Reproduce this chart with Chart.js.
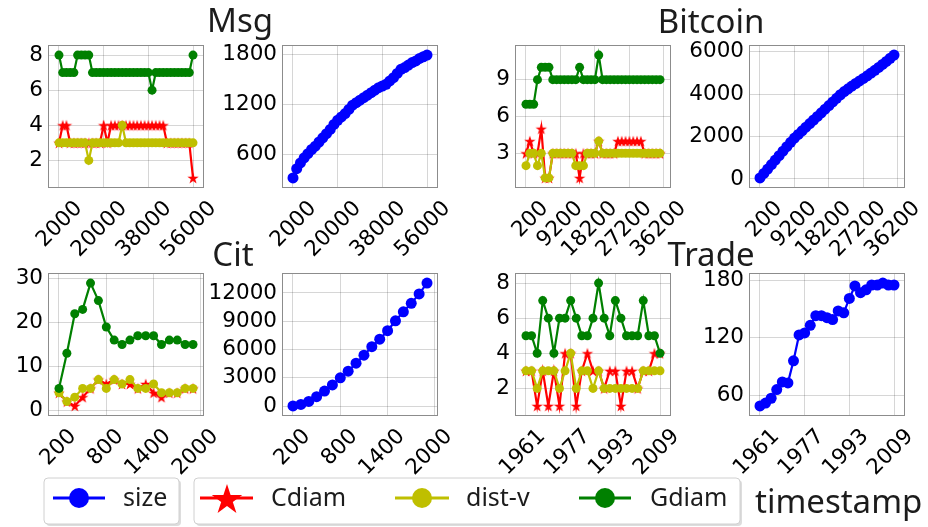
<!DOCTYPE html>
<html>
<head>
<meta charset="utf-8">
<script src="https://cdn.jsdelivr.net/npm/chart.js@4.4.0/dist/chart.umd.min.js"></script>
<style>
  body { margin: 0; background: #fff; }
  #fig { position: relative; width: 928px; height: 527px; overflow: hidden; background: #fff; }
  #fig canvas { position: absolute; }
  #overlay { position: absolute; left: 0; top: 0; z-index: 2; pointer-events: none; }
  #overlay text { font-family: 'Noto Sans', sans-serif; fill: #1c1c1c; }
</style>
</head>
<body>
<div id="fig">
  <svg id="overlay" width="928" height="527" viewBox="0 0 928 527">
    <text x="240" y="32" font-size="33" text-anchor="middle">Msg</text>
    <text x="711" y="33" font-size="33" text-anchor="middle">Bitcoin</text>
    <text x="233" y="266" font-size="33" text-anchor="middle">Cit</text>
    <text x="711" y="266" font-size="33" text-anchor="middle">Trade</text>

    <!-- legend -->
    <rect x="46" y="480" width="135" height="46" rx="4" fill="#bbb" opacity="0.5"/>
    <rect x="44" y="478" width="135" height="46" rx="4" fill="#fff" stroke="#d0d0d0"/>
    <line x1="53" y1="498" x2="105" y2="498" stroke="#0000ff" stroke-width="3"/>
    <circle cx="79" cy="498" r="10" fill="#0000ff"/>
    <text x="123" y="506" font-size="25">size</text>

    <rect x="196" y="480" width="546" height="46" rx="4" fill="#bbb" opacity="0.5"/>
    <rect x="194" y="478" width="546" height="46" rx="4" fill="#fff" stroke="#d0d0d0"/>
    <line x1="200" y1="498" x2="253" y2="498" stroke="#ff0000" stroke-width="3"/>
    <polygon id="legStar" fill="#ff0000"/>
    <text x="271" y="506" font-size="25">Cdiam</text>
    <line x1="395" y1="498" x2="449" y2="498" stroke="#bfbf00" stroke-width="3"/>
    <circle cx="422" cy="498" r="10" fill="#bfbf00"/>
    <text x="466" y="506" font-size="25">dist-v</text>
    <line x1="579" y1="498" x2="631" y2="498" stroke="#008000" stroke-width="3"/>
    <circle cx="605" cy="498" r="10" fill="#008000"/>
    <text x="650" y="506" font-size="25">Gdiam</text>

    <text x="755" y="513" font-size="33">timestamp</text>
  </svg>
</div>

<script>
// ─── Data ─────────────────────────────────────────────────────────────────────
const msgTimes = [2000, 3500, 5000, 6500, 8000, 9500, 11000, 12500, 14000, 15500, 17000, 18500,
  20000, 21500, 23000, 24500, 26000, 27500, 29000, 30500, 32000, 33500, 35000, 36500,
  38000, 39500, 41000, 42500, 44000, 45500, 47000, 48500, 50000, 51500, 53000, 54500, 56000];
const msgCdiam = [3,4,4,3,3,3,3,3,3,3,3,3,4,3,4,4,4,4,4,4,4,4,4,4,4,4,4,4,4,3,3,3,3,3,3,3,1];
const msgDistV = [3,3,3,3,3,3,3,3,2,3,3,3,3,3,3,3,3,4,3,3,3,3,3,3,3,3,3,3,3,3,3,3,3,3,3,3,3];
const msgGdiam = [8,7,7,7,7,8,8,8,8,7,7,7,7,7,7,7,7,7,7,7,7,7,7,7,7,6,7,7,7,7,7,7,7,7,7,7,8];
const msgSize = [320,430,500,560,610,660,700,750,800,850,900,960,1010,1050,1090,1140,1190,1220,
  1250,1280,1310,1340,1370,1400,1420,1440,1480,1520,1570,1620,1640,1670,1700,1720,1750,1770,1790];
const msgXTicks = [2000, 20000, 38000, 56000];

const btcTimes = [200, 1200, 2200, 3200, 4200, 5200, 6200, 7200, 8200, 9200, 10200, 11200,
  12200, 13200, 14200, 15200, 16200, 17200, 18200, 19200, 20200, 21200, 22200, 23200,
  24200, 25200, 26200, 27200, 28200, 29200, 30200, 31200, 32200, 33200, 34200, 35200];
const btcCdiam = [3,4,3,3,5,1,1,3,3,3,3,3,3,3,1,3,3,3,3,4,3,3,3,3,4,4,4,4,4,4,4,3,3,3,3,3];
const btcDistV = [2,3,3,2,3,1,1,3,3,3,3,3,3,2,2,2,3,3,3,4,3,3,3,3,3,3,3,3,3,3,3,3,3,3,3,3];
const btcGdiam = [7,7,7,9,10,10,10,9,9,9,9,9,9,9,10,9,9,9,9,11,9,9,9,9,9,9,9,9,9,9,9,9,9,9,9,9];
const btcSize = [50,260,470,680,890,1100,1310,1520,1730,1930,2100,2270,2440,2610,2780,2950,3120,3290,
  3460,3630,3800,3970,4120,4250,4380,4500,4620,4740,4860,4990,5120,5260,5400,5540,5690,5840];
const btcXTicks = [200, 9200, 18200, 27200, 36200];

const citTimes = [200, 300, 400, 500, 600, 700, 800, 900, 1000, 1100, 1200, 1300, 1400, 1500, 1600, 1700, 1800, 1900];
const citCdiam = [4,2,1,3,5,7,6,7,6,6,5,6,4,3,4,4,5,5];
const citDistV = [4,2,3,5,5,7,5,7,6,7,5,5,6,4,4,4,5,5];
const citGdiam = [5,13,22,23,29,25,19,16,15,16,17,17,17,15,16,16,15,15];
const citSize = [20,180,500,1000,1600,2250,3000,3700,4550,5400,6300,7100,8000,9050,10000,10900,11900,13050];
const citXTicks = [200, 800, 1400, 2000];

const tradeYears = [1961, 1963, 1965, 1967, 1969, 1971, 1973, 1975, 1977, 1979, 1981, 1983, 1985,
  1987, 1989, 1991, 1993, 1995, 1997, 1999, 2001, 2003, 2005, 2007, 2009];
const tradeCdiam = [3,3,1,3,1,3,1,4,4,1,3,4,3,3,2,3,3,1,3,3,2,3,3,4,4];
const tradeDistV = [3,3,2,3,3,3,2,3,4,2,3,3,2,3,2,2,2,2,2,2,2,3,3,3,3];
const tradeGdiam = [5,5,4,7,6,4,6,6,7,6,5,5,6,8,6,5,7,6,5,5,5,7,5,5,4];
const tradeSize = [49,52,57,66,74,73,96,123,125,133,143,143,141,139,148,146,161,174,167,170,175,175,177,175,175];
const tradeXTicks = [1961, 1977, 1993, 2009];

// ─── Style / layout ───────────────────────────────────────────────────────────
const BLUE = '#0000ff', RED = '#ff0000', YELLOW = '#bfbf00', GREEN = '#008000';
const MARGIN = 0.082;
const PLOT_W = 156, PLOT_H = 143;
const Y_AXIS_W = 100, PAD_TOP = 12, PAD_RIGHT = 45, X_AXIS_H = 75;
const TICK_FONT = { family: 'DejaVu Sans', size: 21.5 };
const GRID = 'rgba(0,0,0,0.16)';

function padRange(values, frac) {
  const lo = Math.min(...values), hi = Math.max(...values);
  const m = (hi - lo) * frac;
  return [lo - m, hi + m];
}

function starPoints(cx, cy, r) {
  const pts = [];
  for (let i = 0; i < 10; i++) {
    const rad = i % 2 ? r * 0.382 : r;
    const a = -Math.PI / 2 + i * Math.PI / 5;
    pts.push([cx + rad * Math.cos(a), cy + rad * Math.sin(a)]);
  }
  return pts;
}

function starImage(r, color) {
  const size = Math.ceil(r * 2) + 2;
  const c = document.createElement('canvas');
  c.width = c.height = size;
  const g = c.getContext('2d');
  g.beginPath();
  starPoints(size / 2, size / 2 + r * 0.1, r).forEach(([x, y], i) => i ? g.lineTo(x, y) : g.moveTo(x, y));
  g.closePath();
  g.fillStyle = color;
  g.fill();
  return c;
}
const STAR = starImage(6, RED);

document.getElementById('legStar').setAttribute('points',
  starPoints(227, 500, 16).map(p => p.join(',')).join(' '));

// axes frame (spines)
const frame = {
  id: 'frame',
  afterDraw(chart) {
    const a = chart.chartArea, c = chart.ctx;
    c.save();
    c.strokeStyle = '#8c8c8c';
    c.lineWidth = 1;
    c.strokeRect(a.left + 0.5, a.top + 0.5, a.right - a.left - 1, a.bottom - a.top - 1);
    c.restore();
  }
};

// ─── Panel builder ────────────────────────────────────────────────────────────
function makePanel(left, top, xs, series, xTicks, yTicks, labelOffset) {
  const canvas = document.createElement('canvas');
  canvas.width = Y_AXIS_W + PLOT_W + PAD_RIGHT;
  canvas.height = PAD_TOP + PLOT_H + X_AXIS_H;
  canvas.style.left = (left - Y_AXIS_W) + 'px';
  canvas.style.top = (top - PAD_TOP) + 'px';
  document.getElementById('fig').insertBefore(canvas, document.getElementById('overlay'));

  const [xMin, xMax] = padRange(xs, MARGIN);
  const [yMin, yMax] = padRange(series.flatMap(s => s.values), MARGIN);

  new Chart(canvas, {
    type: 'line',
    data: {
      datasets: series.map(s => ({
        data: xs.map((x, i) => ({ x, y: s.values[i] })),
        borderColor: s.color,
        borderWidth: 2.2,
        pointStyle: s.star ? STAR : 'circle',
        pointRadius: s.radius,
        pointBackgroundColor: s.color,
        pointBorderWidth: 0,
        order: s.order,
        tension: 0,
        fill: false,
      }))
    },
    options: {
      responsive: false,
      animation: false,
      events: [],
      layout: { padding: { left: 0, top: PAD_TOP, right: PAD_RIGHT, bottom: 0 } },
      plugins: { legend: { display: false }, tooltip: { enabled: false } },
      scales: {
        x: {
          type: 'linear', bounds: 'data', min: xMin, max: xMax,
          afterBuildTicks: s => { s.ticks = xTicks.map(v => ({ value: v })); },
          afterFit: s => { s.height = X_AXIS_H; s.paddingLeft = 0; s.paddingRight = 0; },
          ticks: { autoSkip: false, minRotation: 45, maxRotation: 45, padding: 8, labelOffset,
                   font: TICK_FONT, color: '#000', callback: v => String(v) },
          grid: { color: GRID, drawTicks: false },
          border: { display: false },
        },
        y: {
          type: 'linear', bounds: 'data', min: yMin, max: yMax,
          afterBuildTicks: s => { s.ticks = yTicks.map(v => ({ value: v })); },
          afterFit: s => { s.width = Y_AXIS_W; s.paddingTop = 0; s.paddingBottom = 0; },
          ticks: { padding: 5, font: TICK_FONT, color: '#000', callback: v => String(v) },
          grid: { color: GRID, drawTicks: false },
          border: { display: false },
        }
      }
    },
    plugins: [frame]
  });
}

function diamSeries(cdiam, distv, gdiam) {
  return [
    { values: cdiam, color: RED, star: true, radius: 6, order: 3 },
    { values: distv, color: YELLOW, radius: 4.5, order: 2 },
    { values: gdiam, color: GREEN, radius: 4.5, order: 1 },
  ];
}
function sizeSeries(size) {
  return [{ values: size, color: BLUE, radius: 5.5, order: 1 }];
}

// ─── Build figure ─────────────────────────────────────────────────────────────
const COLS = [48, 282, 515, 749];
const ROWS = [45, 273];

makePanel(COLS[0], ROWS[0], msgTimes, diamSeries(msgCdiam, msgDistV, msgGdiam), msgXTicks, [2, 4, 6, 8], 20);
makePanel(COLS[1], ROWS[0], msgTimes, sizeSeries(msgSize), msgXTicks, [600, 1200, 1800], 20);
makePanel(COLS[2], ROWS[0], btcTimes, diamSeries(btcCdiam, btcDistV, btcGdiam), btcXTicks, [3, 6, 9], 19);
makePanel(COLS[3], ROWS[0], btcTimes, sizeSeries(btcSize), btcXTicks, [0, 2000, 4000, 6000], 19);
makePanel(COLS[0], ROWS[1], citTimes, diamSeries(citCdiam, citDistV, citGdiam), citXTicks, [0, 10, 20, 30], 14);
makePanel(COLS[1], ROWS[1], citTimes, sizeSeries(citSize), citXTicks, [0, 3000, 6000, 9000, 12000], 14);
makePanel(COLS[2], ROWS[1], tradeYears, diamSeries(tradeCdiam, tradeDistV, tradeGdiam), tradeXTicks, [2, 4, 6, 8], 16);
makePanel(COLS[3], ROWS[1], tradeYears, sizeSeries(tradeSize), tradeXTicks, [60, 120, 180], 16);
</script>
</body>
</html>
